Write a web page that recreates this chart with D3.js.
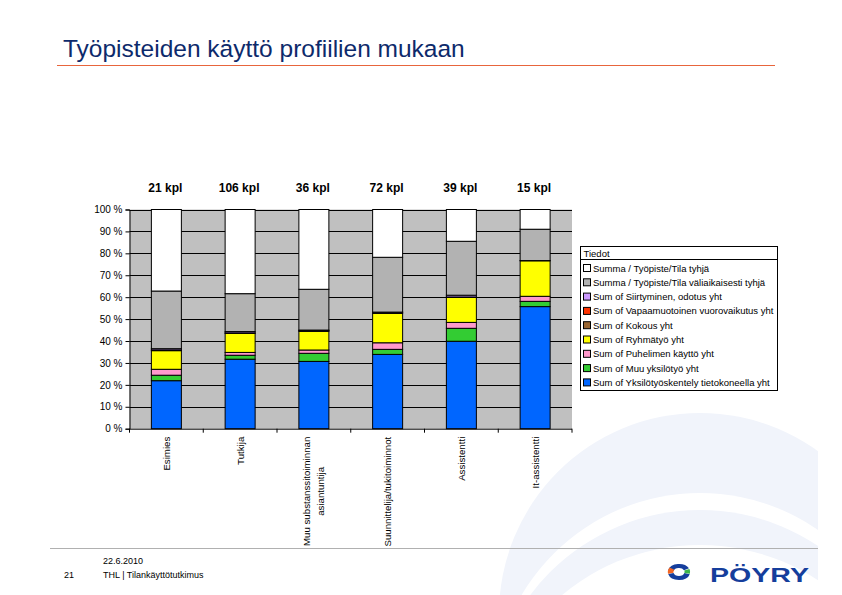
<!DOCTYPE html>
<html lang="fi">
<head>
<meta charset="utf-8">
<style>
  body { margin: 0; background: #fff; }
  svg { font-family: "Liberation Sans", Arial, sans-serif; display: block; }
</style>
</head>
<body>
<script src="https://cdn.jsdelivr.net/npm/d3@7"></script>
<script>

// categories (x axis), counts above bars
var categories = ["Esimies", "Tutkija", "Muu substanssitoiminnan asiantuntija", "Suunnittelija/tukitoiminnot", "Assistentti", "It-assistentti"];
var labelLines = [["Esimies"], ["Tutkija"], ["Muu substanssitoiminnan", "asiantuntija"], ["Suunnittelija/tukitoiminnot"], ["Assistentti"], ["It-assistentti"]];
var counts = ["21 kpl", "106 kpl", "36 kpl", "72 kpl", "39 kpl", "15 kpl"];

// series, bottom to top (percent of total)
var seriesNames = [
  "Sum of Yksilötyöskentely tietokoneella yht",
  "Sum of Muu yksilötyö yht",
  "Sum of Puhelimen käyttö yht",
  "Sum of Ryhmätyö yht",
  "Sum of Kokous yht",
  "Sum of Vapaamuotoinen vuorovaikutus yht",
  "Sum of Siirtyminen, odotus yht",
  "Summa / Työpiste/Tila väliaikaisesti tyhjä",
  "Summa / Työpiste/Tila tyhjä"
];
var yksilo      = [21.9, 31.7, 30.7, 33.9, 39.9, 55.7];
var muuYksilo   = [2.5, 1.8, 3.7, 2.3, 5.9, 2.4];
var puhelin     = [2.7, 1.3, 1.5, 3.0, 2.7, 2.3];
var ryhma       = [8.5, 8.7, 8.5, 13.4, 11.4, 16.2];
var kokous      = [0.3, 0.2, 0.4, 0.5, 0.2, 0.1];
var vapaa       = [0, 0, 0, 0, 0, 0];
var siirtyminen = [0.6, 0.6, 0.2, 0.1, 0.8, 0];
var valiTyhja   = [26.3, 17.3, 18.6, 25.0, 24.6, 14.3];
var tyhja       = [37.2, 38.4, 36.4, 21.8, 14.5, 9.0];
var seriesValues = [yksilo, muuYksilo, puhelin, ryhma, kokous, vapaa, siirtyminen, valiTyhja, tyhja];
var seriesColors = ["#0066ff", "#33cc33", "#ff99cc", "#ffff00", "#996633", "#ff3300", "#cc99ff", "#b2b2b2", "#ffffff"];

var yTicks = [0, 10, 20, 30, 40, 50, 60, 70, 80, 90, 100];

var W = 842, H = 595;
var svg = d3.select("body").append("svg").attr("width", W).attr("height", H);

// faint background swoosh (bottom right)
svg.append("clipPath").attr("id", "swclip")
  .append("rect").attr("x", 0).attr("y", 0).attr("width", 818).attr("height", H);
var sw = svg.append("g").attr("clip-path", "url(#swclip)");
sw.append("circle").attr("cx", 700).attr("cy", 614).attr("r", 201).attr("fill", "#f1f4fb");
sw.append("circle").attr("cx", 700).attr("cy", 700).attr("r", 207).attr("fill", "#fff");
sw.append("circle").attr("cx", 700).attr("cy", 722).attr("r", 212).attr("fill", "#f1f4fb");
sw.append("circle").attr("cx", 700).attr("cy", 760).attr("r", 215).attr("fill", "#fff");

svg.append("text")
  .attr("x", 63).attr("y", 57)
  .attr("font-size", 24.5)
  .attr("fill", "#0d2a6b")
  .text("Työpisteiden käyttö profiilien mukaan");
svg.append("line")
  .attr("x1", 57).attr("x2", 775).attr("y1", 65.5).attr("y2", 65.5)
  .attr("stroke", "#e8653c").attr("stroke-width", 1);

// table for d3.stack
var table = categories.map(function(c, i) {
  var row = {cat: c};
  seriesNames.forEach(function(s, j) { row[s] = seriesValues[j][i]; });
  return row;
});

var plot = {left: 129.5, right: 572, top: 209.5, bottom: 428.7};

var x = d3.scaleBand()
  .domain(categories)
  .range([plot.left, plot.right])
  .paddingInner(0)
  .paddingOuter(0);

var y = d3.scaleLinear().domain([0, 100]).range([plot.bottom, plot.top]);

var color = d3.scaleOrdinal().domain(seriesNames).range(seriesColors);

var g = svg.append("g");

g.append("rect")
  .attr("x", plot.left).attr("y", plot.top)
  .attr("width", plot.right - plot.left).attr("height", plot.bottom - plot.top)
  .attr("fill", "#c0c0c0");

g.append("g")
  .selectAll("line")
  .data(yTicks.slice(1))
  .enter().append("line")
  .attr("x1", plot.left).attr("x2", plot.right)
  .attr("y1", function(d) { return Math.round(y(d)) + 0.5; })
  .attr("y2", function(d) { return Math.round(y(d)) + 0.5; })
  .attr("stroke", "#000").attr("stroke-width", 1);

var barW = 30;
var stacked = d3.stack().keys(seriesNames)(table);

g.append("g")
  .selectAll("g")
  .data(stacked)
  .enter().append("g")
  .attr("fill", function(d) { return color(d.key); })
  .selectAll("rect")
  .data(function(d) { return d.filter(function(p) { return p[1] - p[0] > 0; }); })
  .enter().append("rect")
  .attr("x", function(d) { return x(d.data.cat) + x.bandwidth() / 2 - barW / 2; })
  .attr("y", function(d) { return y(d[1]); })
  .attr("height", function(d) { return y(d[0]) - y(d[1]); })
  .attr("width", barW)
  .attr("stroke", "#000")
  .attr("stroke-width", 1);

// y axis
var yAxis = g.append("g")
  .attr("transform", "translate(" + plot.left + ",0)")
  .call(d3.axisLeft(y).tickValues(yTicks).tickSize(4).tickFormat(function(d) { return d + " %"; }));
yAxis.select(".domain").attr("stroke", "#000");
yAxis.selectAll("text").attr("font-size", 10).attr("font-family", "Liberation Sans, Arial, sans-serif").attr("fill", "#000").attr("x", -7);

// x axis
var boundaries = categories.map(function(c) { return x(c); }).concat([plot.right]);
g.append("line")
  .attr("x1", plot.left).attr("x2", plot.right)
  .attr("y1", plot.bottom + 0.5).attr("y2", plot.bottom + 0.5)
  .attr("stroke", "#000");
g.append("g").selectAll("line")
  .data(boundaries)
  .enter().append("line")
  .attr("x1", function(d) { return d; }).attr("x2", function(d) { return d; })
  .attr("y1", plot.bottom).attr("y2", plot.bottom + 4)
  .attr("stroke", "#000");

// rotated category labels
var xl = g.append("g").selectAll("g")
  .data(categories)
  .enter().append("g")
  .attr("transform", function(d) {
    return "translate(" + (x(d) + x.bandwidth() / 2) + "," + (plot.bottom + 8) + ") rotate(-90)";
  });
xl.each(function(d, i) {
  var lines = labelLines[i];
  var sel = d3.select(this);
  var n = lines.length;
  var texts = lines.map(function(t, k) {
    return sel.append("text")
      .attr("font-size", 9.7)
      .attr("y", (k - (n - 1) / 2) * 14 + 3.5)
      .text(t);
  });
  if (n === 1) {
    texts[0].attr("text-anchor", "end");
  } else {
    var w = d3.max(texts, function(t) { return t.node().getComputedTextLength(); });
    texts.forEach(function(t) { t.attr("text-anchor", "middle").attr("x", -w / 2); });
  }
});

// counts above bars
g.append("g").selectAll("text")
  .data(counts)
  .enter().append("text")
  .attr("x", function(d, i) { return x(categories[i]) + x.bandwidth() / 2 - 1; })
  .attr("y", 192)
  .attr("text-anchor", "middle")
  .attr("font-size", 12)
  .attr("font-weight", "bold")
  .text(function(d) { return d; });

// legend
var lg = svg.append("g").attr("transform", "translate(580.5,246.5)");
var legendKeys = seriesNames.slice().reverse();
lg.append("rect").attr("width", 197).attr("height", 144).attr("fill", "#fff").attr("stroke", "#000");
lg.append("line").attr("x1", 0).attr("x2", 197).attr("y1", 13).attr("y2", 13).attr("stroke", "#000");
lg.append("text").attr("x", 3).attr("y", 10).attr("font-size", 9.5).text("Tiedot");
var li = lg.selectAll("g.item")
  .data(legendKeys)
  .enter().append("g")
  .attr("class", "item")
  .attr("transform", function(d, i) { return "translate(0," + (21.5 + i * 14.3) + ")"; });
li.append("rect")
  .attr("x", 3).attr("y", -3.5).attr("width", 7).attr("height", 7)
  .attr("fill", color).attr("stroke", "#000");
li.append("text")
  .attr("x", 12.5).attr("y", 3.5)
  .attr("font-size", 9.5)
  .text(function(d) { return d; });

// footer
svg.append("line")
  .attr("x1", 50).attr("x2", 818).attr("y1", 548.5).attr("y2", 548.5)
  .attr("stroke", "#b0b0b0");
svg.append("text").attr("x", 103).attr("y", 564).attr("font-size", 9).text("22.6.2010");
svg.append("text").attr("x", 64).attr("y", 578).attr("font-size", 9).text("21");
svg.append("text").attr("x", 103).attr("y", 578).attr("font-size", 9).text("THL | Tilankäyttötutkimus");

// logo
var logo = svg.append("g").attr("transform", "translate(679,572) scale(1.4,1)");
var arc = d3.arc().innerRadius(4).outerRadius(8);
logo.append("path").attr("d", arc({startAngle: -1.3, endAngle: 1.1})).attr("fill", "#153e9c");
logo.append("path").attr("d", arc({startAngle: 1.85, endAngle: 4.45})).attr("fill", "#153e9c");
logo.append("path").attr("d", arc({startAngle: 4.5, endAngle: 5.3})).attr("fill", "#f26522");
logo.append("path").attr("d", arc({startAngle: 1.2, endAngle: 1.8})).attr("fill", "#3db54a");
svg.append("text")
  .attr("x", 710).attr("y", 582)
  .attr("font-size", 21).attr("font-weight", "bold")
  .attr("textLength", 99).attr("lengthAdjust", "spacingAndGlyphs")
  .attr("fill", "#153e9c")
  .text("PÖYRY");

</script>
</body>
</html>
